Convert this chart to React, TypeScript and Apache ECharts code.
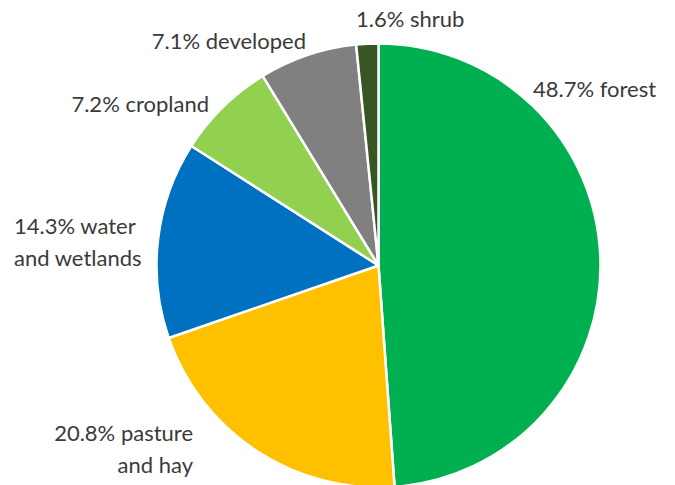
import React, { useEffect, useRef } from "react";
import * as echarts from "echarts";

const categories = ["forest", "pasture\nand hay", "water\nand wetlands", "cropland", "developed", "shrub"];
const values = [48.7, 20.8, 14.3, 7.2, 7.1, 1.6];
const colors = ["#00B050", "#FFC000", "#0070C0", "#92D050", "#808080", "#375623"];

// label anchor points (layout, not data)
const labelPos: { x: number; y: number; align: "left" | "right" }[] = [
  { x: 533, y: 88, align: "left" },
  { x: 193, y: 448, align: "right" },
  { x: 14, y: 241, align: "left" },
  { x: 209, y: 103, align: "right" },
  { x: 306, y: 40, align: "right" },
  { x: 356, y: 18, align: "left" },
];

export default function App() {
  const ref = useRef<HTMLDivElement>(null);
  useEffect(() => {
    document.body.style.margin = "0";
    const chart = echarts.init(ref.current!, undefined, { renderer: "svg" });
    chart.setOption({
      animation: false,
      backgroundColor: "#ffffff",
      series: [
        {
          type: "pie",
          center: [378.5, 265.5],
          radius: 222,
          startAngle: 90,
          clockwise: true,
          avoidLabelOverlap: false,
          itemStyle: { borderColor: "#ffffff", borderWidth: 2.5 },
          label: {
            show: true,
            position: "outside",
            color: "#3a3a3a",
            fontFamily: "Lato",
            fontSize: 22,
            lineHeight: 32,
            formatter: (p: any) => `${p.value}% ${p.name}`,
          },
          labelLine: { show: false },
          labelLayout: (p: any) => {
            const lp = labelPos[p.dataIndex];
            return { x: lp.x, y: lp.y, align: lp.align, verticalAlign: "middle" };
          },
          data: categories.map((c, i) => ({
            name: c,
            value: values[i],
            itemStyle: { color: colors[i] },
            label: { align: labelPos[i].align },
          })),
        },
      ],
    });
    return () => chart.dispose();
  }, []);
  return <div ref={ref} style={{ width: 675, height: 485 }} />;
}
